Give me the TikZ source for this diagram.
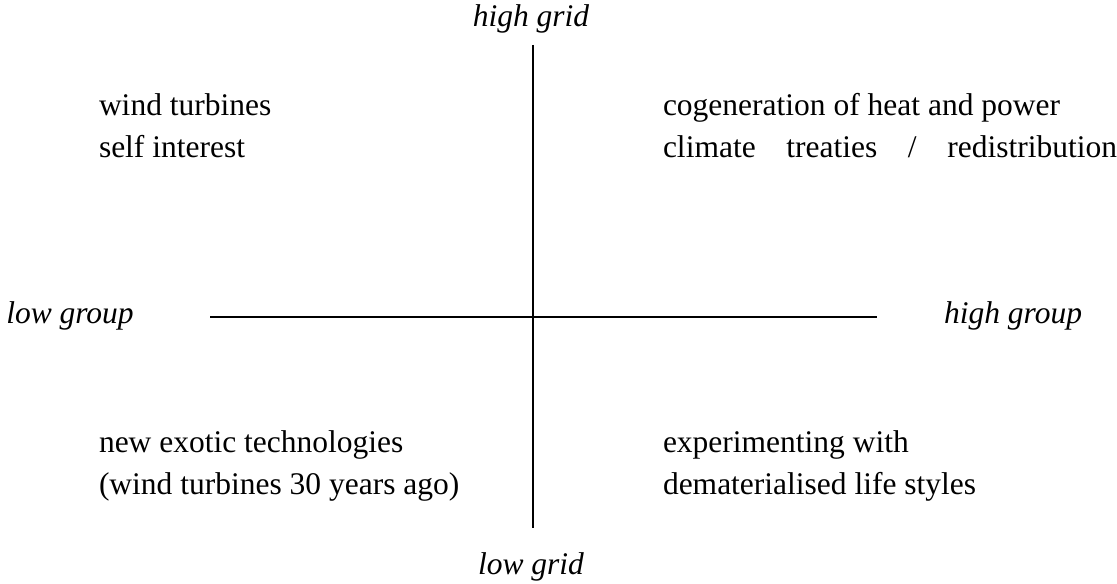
\documentclass[tikz,border=0pt]{standalone}
\usepackage{fontspec}
\setmainfont{Liberation Serif}
\usepackage{tikz}

\begin{document}
\begin{tikzpicture}[x=0.5pt, y=-0.5pt, line width=1pt,
    axislabel/.style={inner sep=0pt, font=\fontsize{15.75}{21}\selectfont\itshape},
    quadtext/.style={inner sep=0pt, anchor=west, align=left, font=\fontsize{15.75}{21}\selectfont}]
        \useasboundingbox (0,0) rectangle (1117,583);

        % axes
        \coordinate (gridtop) at (533,45);
        \coordinate (gridbot) at (533,528);
        \coordinate (grpleft) at (210,317);
        \coordinate (grpright) at (877,317);
        \draw (gridtop) -- (gridbot);
        \draw (grpleft) -- (grpright);

        \node[axislabel] (highgrid) at (531,19) {high grid};
        \node[axislabel] (lowgrid) at (531,567) {low grid};
        \node[axislabel] (lowgroup) at (70,316) {low group};
        \node[axislabel] (highgroup) at (1013,316) {high group};

        % quadrants
        \node[quadtext] (nw) at (98,126) {wind turbines\\self interest};
        \node[quadtext] (ne) at (662,126) {cogeneration of heat and power\\\makebox[227pt][s]{climate treaties / redistribution}};
        \node[quadtext] (sw) at (98,466) {new exotic technologies\\(wind turbines 30 years ago)};
        \node[quadtext] (se) at (662,466) {experimenting with\\dematerialised life styles};
    \end{tikzpicture}
\end{document}
